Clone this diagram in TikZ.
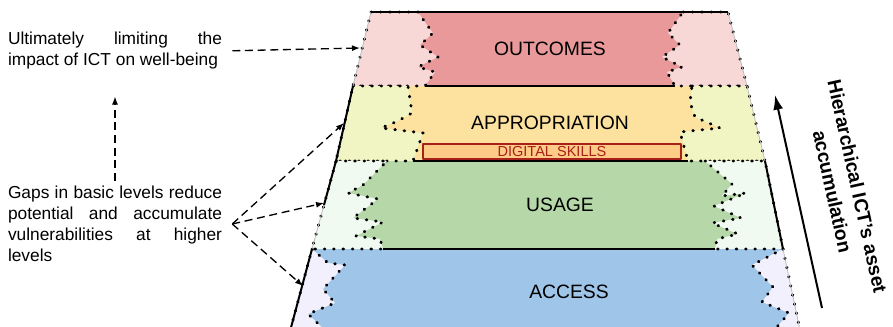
\documentclass[tikz,border=0pt]{standalone}
\usepackage{fontspec}
\setmainfont{Liberation Sans}
\usepackage{xcolor}
\usetikzlibrary{shapes, arrows.meta, positioning}

\definecolor{outcore}{HTML}{E99999}
\definecolor{outgap}{HTML}{F8D7D7}
\definecolor{appcore}{HTML}{FCE29E}
\definecolor{appgap}{HTML}{F1F5C4}
\definecolor{usecore}{HTML}{B6D7A8}
\definecolor{usegap}{HTML}{F0FAF0}
\definecolor{acccore}{HTML}{9FC5E8}
\definecolor{accgap}{HTML}{F1F0FC}
\definecolor{skillfill}{HTML}{FFCC88}
\definecolor{skillred}{HTML}{A8201A}

% no hyphenation in the notes
\hyphenpenalty=10000
\exhyphenpenalty=10000

\begin{document}
\begin{tikzpicture}[x=0.75pt, y=-0.75pt, line join=round]

    % Define styles for the levels, the gaps and the arrows
    \tikzstyle{level} = [font=\fontsize{14.5}{17}\selectfont, inner sep=0pt]
    \tikzstyle{gap} = [draw=black, line width=2.2pt, dash pattern=on 0.5pt off 6.5pt, line cap=round]
    \tikzstyle{border} = [draw=black, line width=1.5pt]
    \tikzstyle{faint} = [draw=black!25, line width=0.6pt]
    \tikzstyle{note} = [text width=160.5pt, align=justify, inner sep=0pt, font=\fontsize{13}{15.75}\selectfont]
    \tikzstyle{hint} = [-{Latex[length=6pt, width=4.5pt]}, line width=1pt, dash pattern=on 6pt off 3.5pt]
    \tikzstyle{climb} = [-{Latex[length=11pt, width=7.5pt]}, line width=1.5pt]

    \useasboundingbox (0,0) rectangle (893,327);

    \begin{scope}
    \clip (0,0) rectangle (893,327);

    % the four levels
    \fill[outcore] (371,12) -- (728,12) -- (747,86) -- (353,86) -- cycle;
    \fill[appcore] (353,86) -- (747,86) -- (765,161) -- (336,161) -- cycle;
    \fill[usecore] (336,161) -- (765,161) -- (783,249) -- (312,249) -- cycle;
    \fill[acccore] (312,249) -- (783,249) -- (801,335) -- (289,335) -- cycle;

    % gaps on both sides of each level
    \path[gap, fill=outgap] (371,12) -- (418,12) -- (427,25) -- (433,33) -- (420,45) -- (438,57) -- (418,67) -- (435,72) -- (425,86) -- (353,86) -- cycle;
    \path[gap, fill=outgap] (683,12) -- (728,12) -- (747,86) -- (675,86) -- (667,72) -- (682,67) -- (662,57) -- (680,45) -- (668,33) -- (678,19) -- cycle;
    \path[gap, fill=appgap] (353,86) -- (408,86) -- (412,113) -- (398,121) -- (381,128) -- (423,133) -- (413,161) -- (336,161) -- cycle;
    \path[gap, fill=appgap] (692,86) -- (747,86) -- (765,161) -- (688,161) -- (680,132) -- (720,128) -- (695,117) -- (690,102) -- cycle;
    \path[gap, fill=usegap] (336,161) -- (387,161) -- (363,185) -- (348,193) -- (378,199) -- (353,218) -- (383,222) -- (356,236) -- (380,239) -- (383,249) -- (312,249) -- cycle;
    \path[gap, fill=usegap] (705,161) -- (765,161) -- (783,249) -- (715,249) -- (717,239) -- (738,234) -- (712,223) -- (741,218) -- (714,206) -- (746,193) -- (722,196) -- (732,184) -- cycle;
    \path[gap, fill=accgap] (312,249) -- (328,263) -- (345,265) -- (323,289) -- (335,303) -- (308,314) -- (330,335) -- (289,335) -- cycle;
    \path[gap, fill=accgap] (783,249) -- (801,335) -- (770,335) -- (789,313) -- (762,302) -- (773,287) -- (752,265) -- cycle;

    % outline of the pyramid
    \draw[faint] (371,12) -- (353,86);
    \draw[faint] (728,12) -- (747,86) -- (765,161);
    \draw[faint] (324,205) -- (312,249);
    \draw[faint] (783,249) -- (801,335);
    \draw[border] (371,12) -- (728,12);
    \draw[border] (425,86) -- (675,86);
    \draw[border] (413,161) -- (688,161);
    \draw[border] (383,249) -- (715,249);
    \draw[border] (353,86) -- (336,161) -- (324,205);
    \draw[border] (312,249) -- (289,335);
    \draw[border] (765,161) -- (783,249);
    \end{scope}

    \node (outcomes) [level] at (550,49) {OUTCOMES};
    \node (appropriation) [level] at (550,123) {APPROPRIATION};
    \node (skills) [draw=skillred, fill=skillfill, line width=1pt, minimum width=193.5pt, minimum height=11.25pt, inner sep=0pt,
        text=skillred, font=\fontsize{10.9}{12}\selectfont] at (552,151.5) {DIGITAL SKILLS};
    \node (usage) [level] at (560,205) {USAGE};
    \node (access) [level] at (569,292) {ACCESS};

    % notes on the left
    \node (impact) [note] at (115,51) {Ultimately limiting the impact of ICT on well-being};
    \node (gaps) [note] at (115,224) {Gaps in basic levels reduce potential and accumulate vulnerabilities at higher levels};

    \coordinate (outtip) at (360,48);
    \coordinate (apptip) at (344,123);
    \coordinate (usetip) at (324,203);
    \coordinate (acctip) at (303,286);
    \coordinate (fork) at ([xshift=7.5pt]gaps.east);

    \draw[hint, shorten <=7.5pt] (impact.east) -- (outtip);
    \draw[hint, shorten <=3.75pt, shorten >=20pt] (gaps.north) -- (impact.south);
    \draw[hint] (fork) -- (apptip);
    \draw[hint] (fork) -- (usetip);
    \draw[hint] (fork) -- (acctip);

    % accumulation arrow on the right
    \coordinate (climbfoot) at (822,308);
    \coordinate (climbtop) at (775,95);
    \draw[climb] (climbfoot) -- (climbtop);
    \node (climblabel) [rotate=-77.6, align=center, inner sep=0pt, font=\bfseries\fontsize{14.5}{19}\selectfont] at (845,189) {Hierarchical ICT’s asset\\accumulation};

\end{tikzpicture}
\end{document}
